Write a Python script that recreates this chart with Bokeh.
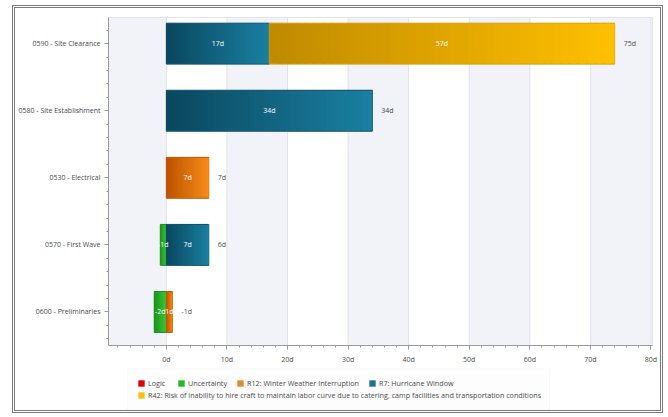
import numpy as np
from bokeh.plotting import figure
from bokeh.layouts import column
from bokeh.models import (Range1d, FixedTicker, BoxAnnotation,
                          Legend, LegendItem, ColumnDataSource)
from bokeh.core.properties import value
from bokeh.embed import file_html
from bokeh.resources import INLINE

# ---------------- data ----------------
categories = ["0590 - Site Clearance", "0580 - Site Establishment", "0530 - Electrical",
              "0570 - First Wave", "0600 - Preliminaries"]
logic = [0, 0, 0, 0, 0]
uncertainty = [0, 0, 0, -1, -2]
r12_winter = [0, 0, 7, 0, 1]
r7_hurricane = [17, 34, 0, 7, 0]
r42_labor = [57, 0, 0, 0, 0]
totals = [75, 34, 7, 6, -1]
x_ticks = [0, 10, 20, 30, 40, 50, 60, 70, 80]
x_tick_labels = ["0d", "10d", "20d", "30d", "40d", "50d", "60d", "70d", "80d"]

series_names = ["Logic", "Uncertainty", "R12: Winter Weather Interruption", "R7: Hurricane Window",
                "R42: Risk of inability to hire craft to maintain labor curve due to catering, camp facilities and transportation conditions"]
series_values = [logic, uncertainty, r12_winter, r7_hurricane, r42_labor]
# bar styling: flat fill, outline, and a left->right gradient drawn over each segment
fill_colors = ["#e00000", "#2cb42c", "#dc6b08", "#136482", "#e2a702"]
line_colors = ["#b00000", "#1c8c1c", "#b85a06", "#0d4c64", "#d49c10"]
grad_start = ["#b00000", "#1a8f1a", "#bb5300", "#0a475e", "#c08a00"]
grad_end = ["#ff2020", "#3ccc3c", "#f88c18", "#1a80a2", "#ffc000"]
legend_colors = ["#e00000", "#22bb22", "#e8892a", "#1d7591", "#f5c010"]

FONT = "Open Sans"
TXT = "#4a4a4a"
BAR_H = 0.61
N_SLICES = 40


def hex2rgb(h):
    h = h.lstrip("#")
    return np.array([int(h[k:k + 2], 16) for k in (0, 2, 4)], dtype=float)


def rgb2hex(c):
    return "#%02x%02x%02x" % tuple(int(round(v)) for v in c)


p = figure(width=645, height=360,
           x_range=Range1d(-9.55, 80.25), y_range=Range1d(4.5, -0.39),
           output_backend="svg", toolbar_location=None,
           min_border_left=92, min_border_right=8, min_border_top=9, min_border_bottom=23)
p.background_fill_color = "white"
p.border_fill_color = "white"
p.outline_line_color = "#e2e4eb"
p.grid.visible = False

# alternating bands, derived from the tick positions
band_edges = [x_ticks[0] - 10] + x_ticks
for i in range(0, len(band_edges) - 1, 2):
    p.add_layout(BoxAnnotation(left=band_edges[i], right=band_edges[i + 1],
                               fill_color="#f1f3f8", fill_alpha=1.0,
                               line_color="#dfe2ea", line_alpha=1.0, line_width=1,
                               level="underlay"))

# ---------------- bars ----------------
ys = list(range(len(categories)))
pos_base = [0.0] * len(categories)
seg_x, seg_y, seg_t = [], [], []
for s, (name, vals) in enumerate(zip(series_names, series_values)):
    left, right, yy = [], [], []
    for i, v in enumerate(vals):
        if v == 0:
            continue
        if v < 0:
            l, r = v, 0
        else:
            l, r = pos_base[i], pos_base[i] + v
            pos_base[i] = r
        left.append(l); right.append(r); yy.append(ys[i])
        seg_x.append((l + r) / 2); seg_y.append(ys[i]); seg_t.append(f"{v}d")
    src = ColumnDataSource(dict(y=yy, left=left, right=right))
    p.hbar(y="y", left="left", right="right", height=BAR_H, source=src,
           fill_color=fill_colors[s], line_color=line_colors[s], line_width=1)

    # gradient shading over each segment of this series
    c0, c1 = hex2rgb(grad_start[s]), hex2rgb(grad_end[s])
    gl, gr, gy, gc = [], [], [], []
    for l, r, y0 in zip(left, right, yy):
        edges = np.linspace(l, r, N_SLICES + 1)
        w = (r - l) / N_SLICES
        for k in range(N_SLICES):
            t = (k + 0.5) / N_SLICES
            gl.append(edges[k])
            gr.append(min(edges[k + 1] + 0.6 * w, r))
            gy.append(y0)
            gc.append(rgb2hex(c0 + (c1 - c0) * t))
    if gl:
        gsrc = ColumnDataSource(dict(y=gy, left=gl, right=gr, c=gc))
        p.hbar(y="y", left="left", right="right", height=BAR_H - 0.02, source=gsrc,
               fill_color="c", line_color=None)

# segment labels
p.text(x=seg_x, y=seg_y, text=seg_t, text_color="white", text_font=value(FONT),
       text_font_size="7px", text_align="center", text_baseline="middle")

# total labels at end of bar
ends = [max(b, 0) for b in pos_base]
p.text(x=ends, y=ys, text=[f"{t}d" for t in totals], text_color=TXT, text_font=value(FONT),
       text_font_size="7px", text_align="left", text_baseline="middle", x_offset=9)

# ---------------- axes ----------------
xa = p.xaxis[0]
xa.ticker = FixedTicker(ticks=x_ticks, minor_ticks=list(np.arange(-8, 81, 2)))
xa.major_label_overrides = {t: l for t, l in zip(x_ticks, x_tick_labels)}
ya = p.yaxis[0]
ya.ticker = FixedTicker(ticks=ys, minor_ticks=[round(v, 1) for v in np.arange(-0.2, 4.45, 0.2)])
ya.major_label_overrides = {i: c for i, c in zip(ys, categories)}
for ax in (xa, ya):
    ax.axis_line_color = "#9a9a9a"
    ax.major_tick_line_color = "#9a9a9a"
    ax.minor_tick_line_color = "#9a9a9a"
    ax.major_tick_out = 4
    ax.major_tick_in = 0
    ax.minor_tick_out = 2
    ax.minor_tick_in = 0
    ax.major_label_text_font = FONT
    ax.major_label_text_font_size = "7px"
    ax.major_label_text_color = TXT
xa.major_label_standoff = 5
ya.major_label_standoff = 4

# ---------------- legend panel ----------------
lf = figure(width=645, height=42, x_range=Range1d(0, 545), y_range=Range1d(0, 1),
            x_axis_type=None, y_axis_type=None, output_backend="svg", toolbar_location=None,
            min_border_left=92, min_border_right=8, min_border_top=0, min_border_bottom=0)
lf.grid.visible = False
lf.background_fill_color = "white"
lf.border_fill_color = "white"
lf.outline_line_color = None
lf.add_layout(BoxAnnotation(left=19, right=442, fill_color="#fdfdfe", fill_alpha=1,
                            line_color="#e3e4e8", line_width=1, level="underlay"))

# legend keys (kept outside the visible range of the legend panel)
key_renderers = []
for fc in legend_colors:
    key_renderers.append(lf.hbar(y=[-5], left=[0], right=[1], height=0.5,
                                 fill_color=fc, line_color=None))

def make_legend(idx, loc):
    items = [LegendItem(label=series_names[k], renderers=[key_renderers[k]]) for k in idx]
    return Legend(items=items, location=loc, orientation="horizontal",
                  label_text_font=FONT, label_text_font_size="7.2px", label_text_color=TXT,
                  glyph_width=8, glyph_height=8, label_height=9, label_standoff=3,
                  spacing=9, padding=2, margin=0,
                  border_line_alpha=0, background_fill_alpha=0)

lf.add_layout(make_legend([0, 1, 2, 3], (27, 20)))
lf.add_layout(make_legend([4], (27, 8)))

layout = column(p, lf, spacing=0,
                styles={"border": "3px double #7a7a7a", "margin-left": "12px",
                        "margin-top": "5px", "background-color": "white"})

open("out.html", "w").write(file_html(layout, INLINE))
